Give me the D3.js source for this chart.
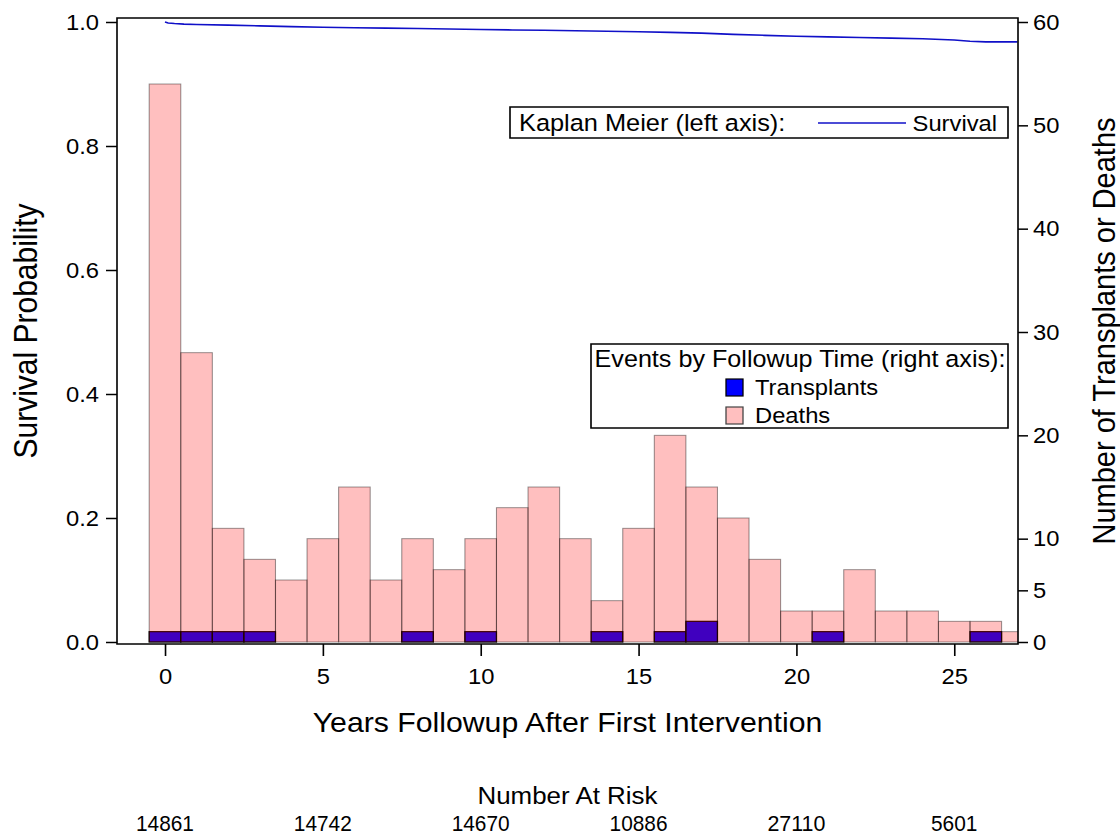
<!DOCTYPE html>
<html>
<head>
<meta charset="utf-8">
<script src="https://cdn.jsdelivr.net/npm/d3@7"></script>
<style>
  body { margin: 0; background: #fff; }
  text { font-family: "Liberation Sans", Arial, sans-serif; fill: #000; }
</style>
</head>
<body>
<script>
(function () {
  "use strict";

  // yearly bins (years after first intervention)
  var yearBins = [0, 1, 2, 3, 4, 5, 6, 7, 8, 9, 10, 11, 12, 13, 14, 15, 16, 17, 18, 19, 20, 21, 22, 23, 24, 25, 26, 27];
  var deaths = [54, 28, 11, 8, 6, 10, 15, 6, 10, 7, 10, 13, 15, 10, 4, 11, 20, 15, 12, 8, 3, 3, 7, 3, 3, 2, 2, 1];
  var transplants = [1, 1, 1, 1, 0, 0, 0, 0, 1, 0, 1, 0, 0, 0, 1, 0, 1, 2, 0, 0, 0, 1, 0, 0, 0, 0, 1, 0];

  // Kaplan Meier curve
  var kmTime = [0, 0.1, 0.3, 0.6, 1, 2, 3, 4, 5, 6, 7, 8, 9, 10, 11, 12, 13, 14, 15, 16, 17, 18, 19, 20, 21, 22, 23, 24, 25, 25.5, 26, 27];
  var kmSurv = [1.0, 0.9985, 0.9975, 0.9965, 0.996, 0.995, 0.9937, 0.9925, 0.9915, 0.9908, 0.9902, 0.9895, 0.9887, 0.9878,
                0.9872, 0.9866, 0.9859, 0.985, 0.9843, 0.9833, 0.982, 0.980, 0.9785, 0.977, 0.976, 0.975, 0.974, 0.973,
                0.971, 0.969, 0.968, 0.968];

  var xTicks = [0, 5, 10, 15, 20, 25];
  var leftTicks = [0, 0.2, 0.4, 0.6, 0.8, 1.0];
  var rightTicks = [0, 5, 10, 20, 30, 40, 50, 60];
  var atRisk = [14861, 14742, 14670, 10886, 27110, 5601];

  // the original picture is stretched a little sideways
  var SX = 1.08;
  function X(px) { return px / SX; }

  var outerWidth = 1120, outerHeight = 837;
  var left = X(117), right = X(1018), top = 18, bottom = 644;

  var svg = d3.select('body').append('svg')
      .attr('width', outerWidth)
      .attr('height', outerHeight)
      .attr('viewBox', '0 0 ' + X(outerWidth) + ' ' + outerHeight)
      .attr('preserveAspectRatio', 'none');

  var x = d3.scaleLinear().domain([-1.52, 27.02]).range([left, right]);
  var yL = d3.scaleLinear().domain([0, 1]).range([642, 22]);
  var yR = d3.scaleLinear().domain([0, 60]).range([642, 22]);

  svg.append('clipPath').attr('id', 'plot')
    .append('rect')
      .attr('x', left).attr('y', top)
      .attr('width', right - left).attr('height', bottom - top);

  var plot = svg.append('g').attr('clip-path', 'url(#plot)');

  var rows = yearBins.map(function (d, i) {
    return {year: d, deaths: deaths[i], transplants: transplants[i]};
  });

  // transplants underneath, translucent red deaths on top
  plot.selectAll('.tx')
      .data(rows.filter(function (d) { return d.transplants > 0; }))
      .enter()
    .append('rect')
      .attr('class', 'tx')
      .attr('x', function (d) { return x(d.year - 0.5); })
      .attr('width', function (d) { return x(d.year + 0.5) - x(d.year - 0.5); })
      .attr('y', function (d) { return yR(d.transplants); })
      .attr('height', function (d) { return yR(0) - yR(d.transplants); })
      .attr('fill', '#0000ff')
      .attr('stroke', '#000')
      .attr('stroke-width', 1.2);

  plot.selectAll('.death')
      .data(rows)
      .enter()
    .append('rect')
      .attr('class', 'death')
      .attr('x', function (d) { return x(d.year - 0.5); })
      .attr('width', function (d) { return x(d.year + 0.5) - x(d.year - 0.5); })
      .attr('y', function (d) { return yR(d.deaths); })
      .attr('height', function (d) { return yR(0) - yR(d.deaths); })
      .attr('fill', '#ff0000')
      .attr('fill-opacity', 0.25)
      .attr('stroke', '#000')
      .attr('stroke-opacity', 0.4)
      .attr('stroke-width', 1);

  var km = kmTime.map(function (t, i) { return [t, kmSurv[i]]; });
  plot.append('path')
      .datum(km)
      .attr('fill', 'none')
      .attr('stroke', '#1010c8')
      .attr('stroke-width', 1.6)
      .attr('d', d3.line()
        .x(function (d) { return x(d[0]); })
        .y(function (d) { return yL(d[1]); }));

  // axes
  function tidy(g, size) {
    g.select('.domain').remove();
    g.selectAll('.tick line').attr('stroke', '#000').attr('stroke-width', 1.5);
    g.selectAll('.tick text').style('font-size', size + 'px').attr('fill', '#000');
  }

  svg.append('g')
      .attr('transform', 'translate(' + left + ',0)')
      .call(d3.axisLeft(yL).tickValues(leftTicks).tickFormat(d3.format('.1f'))
        .tickSize(X(11)).tickPadding(X(7)))
      .call(tidy, 22);

  svg.append('g')
      .attr('transform', 'translate(' + right + ',0)')
      .call(d3.axisRight(yR).tickValues(rightTicks).tickSize(X(10)).tickPadding(X(5)))
      .call(tidy, 22);

  svg.append('g')
      .attr('transform', 'translate(0,' + bottom + ')')
      .call(d3.axisBottom(x).tickValues(xTicks).tickSize(12).tickPadding(12))
      .call(tidy, 22);

  svg.append('rect')
      .attr('x', left).attr('y', top)
      .attr('width', right - left).attr('height', bottom - top)
      .attr('fill', 'none')
      .attr('stroke', '#000')
      .attr('stroke-width', 1.5);

  // axis titles
  svg.append('text')
      .attr('x', X(567.5)).attr('y', 732)
      .attr('text-anchor', 'middle')
      .style('font-size', '28px')
      .text('Years Followup After First Intervention');

  svg.append('text')
      .attr('transform', 'translate(' + X(26) + ',331) rotate(-90)')
      .attr('dy', '0.35em')
      .attr('text-anchor', 'middle')
      .style('font-size', '30px')
      .text('Survival Probability');

  svg.append('text')
      .attr('transform', 'translate(' + X(1104) + ',331) rotate(-90)')
      .attr('dy', '0.35em')
      .attr('text-anchor', 'middle')
      .style('font-size', '29px')
      .text('Number of Transplants or Deaths');

  // legend: Kaplan Meier
  var leg1 = svg.append('g');
  leg1.append('rect')
      .attr('x', X(510)).attr('y', 107)
      .attr('width', X(1008) - X(510)).attr('height', 31)
      .attr('fill', '#fff').attr('stroke', '#000').attr('stroke-width', 1.5);
  leg1.append('text')
      .attr('x', X(519)).attr('y', 131)
      .style('font-size', '23.5px')
      .text('Kaplan Meier (left axis):');
  leg1.append('line')
      .attr('x1', X(818)).attr('x2', X(906))
      .attr('y1', 123).attr('y2', 123)
      .attr('stroke', '#1010c8').attr('stroke-width', 1.6);
  leg1.append('text')
      .attr('x', X(997)).attr('y', 131)
      .attr('text-anchor', 'end')
      .style('font-size', '22px')
      .text('Survival');

  // legend: events
  var leg2 = svg.append('g');
  leg2.append('rect')
      .attr('x', X(591)).attr('y', 344)
      .attr('width', X(1008) - X(591)).attr('height', 84)
      .attr('fill', '#fff').attr('stroke', '#000').attr('stroke-width', 1.5);
  leg2.append('text')
      .attr('x', X(800)).attr('y', 367)
      .attr('text-anchor', 'middle')
      .style('font-size', '23.3px')
      .text('Events by Followup Time (right axis):');
  var items = [
    {label: 'Transplants', fill: '#0000ff', stroke: '#000', y: 379},
    {label: 'Deaths', fill: '#ffbfbf', stroke: '#444', y: 407}
  ];
  items.forEach(function (it) {
    leg2.append('rect')
        .attr('x', X(726)).attr('y', it.y)
        .attr('width', X(17)).attr('height', 17)
        .attr('fill', it.fill).attr('stroke', it.stroke).attr('stroke-width', 1.2);
    leg2.append('text')
        .attr('x', X(755)).attr('y', it.y + 16)
        .style('font-size', '22px')
        .text(it.label);
  });

  // number at risk
  svg.append('text')
      .attr('x', X(567.5)).attr('y', 804)
      .attr('text-anchor', 'middle')
      .style('font-size', '24px')
      .text('Number At Risk');

  svg.selectAll('.risk')
      .data(atRisk)
      .enter()
    .append('text')
      .attr('class', 'risk')
      .attr('x', function (d, i) { return x(xTicks[i]); })
      .attr('y', 831)
      .attr('text-anchor', 'middle')
      .attr('textLength', function (d) { return String(d).length * X(11.6); })
      .attr('lengthAdjust', 'spacingAndGlyphs')
      .style('font-size', '22px')
      .text(function (d) { return d; });
}());
</script>
</body>
</html>
